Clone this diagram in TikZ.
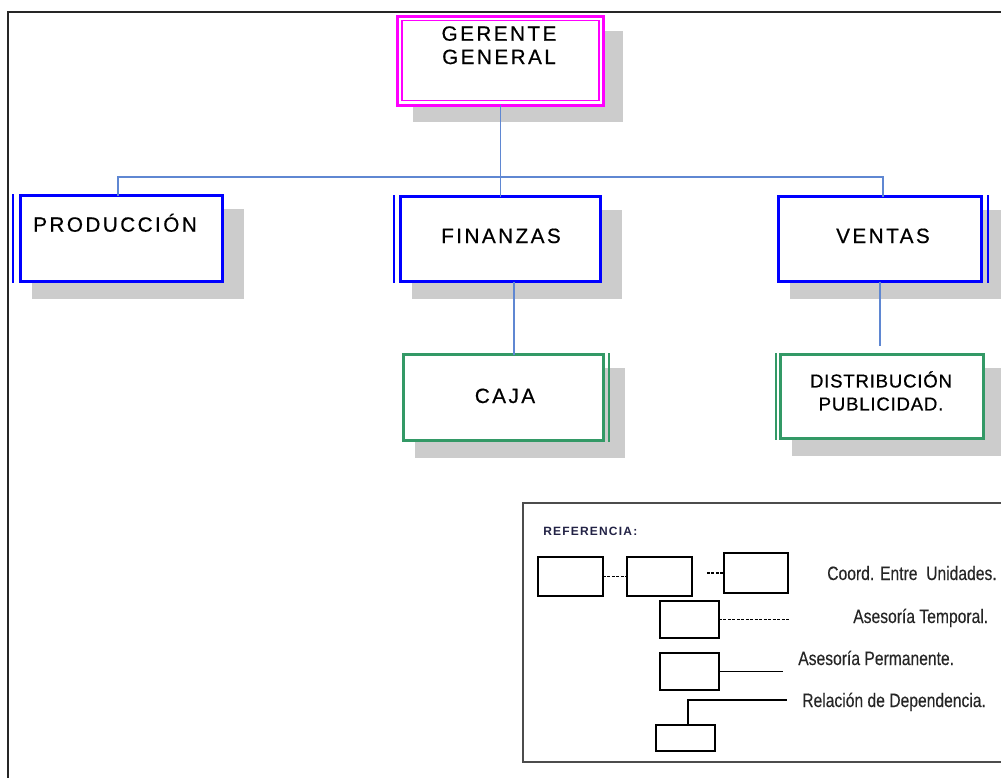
\documentclass[tikz,border=0pt]{standalone}
\usepackage{fontspec}
\setmainfont{Liberation Sans}
\newfontfamily\boxfont[LetterSpace=12,FakeBold=0.6]{Liberation Sans}
\newfontfamily\distfont[LetterSpace=4,FakeBold=0.6]{Liberation Sans}
\newfontfamily\reffont[LetterSpace=10]{Liberation Sans}
\newfontfamily\legfont[FakeBold=0.3]{Liberation Sans}
\usetikzlibrary{shadows,calc}
\definecolor{magbox}{RGB}{255,0,255}
\definecolor{bluebox}{RGB}{0,0,255}
\definecolor{greenbox}{RGB}{51,153,102}
\definecolor{connblue}{RGB}{95,135,210}
\definecolor{shadowgray}{RGB}{204,204,204}
\definecolor{refnavy}{RGB}{35,35,70}
\begin{document}
\begin{tikzpicture}[x=0.75pt,y=-0.75pt,
  orgbox/.style={rectangle,fill=white,inner sep=0pt,outer sep=0pt,
    drop shadow={shadow scale=1.05,shadow xshift=11.5pt,shadow yshift=-11pt,fill=shadowgray,opacity=1}},
  topbox/.style={rectangle,fill=white,inner sep=0pt,outer sep=0pt,
    drop shadow={shadow scale=1.02,shadow xshift=13.1pt,shadow yshift=-12pt,fill=shadowgray,opacity=1},
    draw=magbox,line width=2.25pt},
  unitbox/.style={orgbox,draw=bluebox,line width=2.4pt},
  subbox/.style={orgbox,draw=greenbox,line width=2.4pt},
  thinedge/.style={draw=#1,line width=0.8pt},
  conn/.style={draw=connblue,line width=1.1pt},
  boxtext/.style={inner sep=0pt,font=\boxfont\fontsize{15.5}{17.5}\selectfont,text=black},
  disttext/.style={inner sep=0pt,font=\distfont\fontsize{14}{17.25}\selectfont,text=black},
  legbox/.style={rectangle,draw=black,line width=0.9pt,fill=white,inner sep=0pt,outer sep=0pt},
  legline/.style={draw=black,line width=0.9pt},
  legdash/.style={draw=black,line width=0.9pt,dash pattern=on 2.25pt off 1.1pt},
  legtext/.style={inner sep=0pt,anchor=base west,font=\legfont\fontsize{14.5}{17}\selectfont,text=black!85}
]
\fill[white] (0,0) rectangle (1001,778);
\useasboundingbox (0,0) rectangle (1001,778);

% outer frame
\draw[line width=1.5pt,black!85] (8,790) -- (8,12) -- (1010,12);

% org boxes
\node[topbox,minimum width=154.5pt,minimum height=66.75pt] (ger) at (500.5,60.5) {};
\draw[magbox,line width=0.9pt] ($(ger.north west)+(4.5,4.5)$) rectangle ($(ger.south east)+(-4.5,-4.5)$);
\node[unitbox,minimum width=151.5pt,minimum height=64.5pt] (prod) at (121.5,238.5) {};
\node[unitbox,minimum width=150pt,minimum height=63.75pt] (fin) at (500.5,239) {};
\node[unitbox,minimum width=152.25pt,minimum height=63.75pt] (ven) at (880,239) {};
\node[subbox,minimum width=150pt,minimum height=64.5pt] (caja) at (503.5,397.5) {};
\node[subbox,minimum width=152.25pt,minimum height=63pt] (dist) at (882,396.5) {};

% thin side lines of the double borders
\draw[thinedge=bluebox] ($(prod.north west)+(-7.5,-1.5)$) -- ($(prod.south west)+(-7.5,1.5)$);
\draw[thinedge=bluebox] ($(fin.north west)+(-6.5,-1.5)$) -- ($(fin.south west)+(-6.5,1.5)$);
\draw[thinedge=bluebox] ($(ven.north east)+(6.5,-1.5)$) -- ($(ven.south east)+(6.5,1.5)$);
\draw[thinedge=greenbox] ($(caja.north east)+(5.5,-1.5)$) -- ($(caja.south east)+(5.5,1.5)$);
\draw[thinedge=greenbox] ($(dist.north west)+(-4.5,-1.5)$) -- ($(dist.south west)+(-4.5,1.5)$);

% connectors
\coordinate (busL) at (118,177);
\coordinate (busR) at (883,177);
\draw[conn] (ger.south) -- (fin.north -| ger.south);
\draw[conn] (prod.north -| busL) -- (busL) -- (busR) -- (ven.north -| busR);
\draw[conn] ($(fin.south)+(13.5,0)$) -- ($(caja.north)+(10.5,0)$);
\draw[conn] (ven.south) -- ($(dist.north)+(-2,-9)$);

% box texts
\node[boxtext,anchor=north,align=center] (gertext) at (499,26) {GERENTE\\GENERAL};
\node[boxtext,anchor=base west] (prodtext) at (33,231.7) {PRODUCCIÓN};
\node[boxtext,anchor=base] (fintext) at (501,243) {FINANZAS};
\node[boxtext,anchor=base] (ventext) at (883,243) {VENTAS};
\node[boxtext,anchor=base] (cajatext) at (505,403) {CAJA};
\node[disttext,anchor=north,align=center] (disttxt) at (881,371) {DISTRIBUCIÓN\\PUBLICIDAD.};

% legend
\node[draw=black!70,line width=1.5pt,fill=white,minimum width=360pt,minimum height=194.25pt,inner sep=0pt] (legend) at (763,632.5) {};
\node[inner sep=0pt,anchor=base west,text=refnavy,font=\reffont\bfseries\fontsize{9}{11}\selectfont] (reftitle) at (543,535) {REFERENCIA:};

\node[legbox,minimum width=48.75pt,minimum height=29.25pt] (b1) at (570.5,576.5) {};
\node[legbox,minimum width=48.75pt,minimum height=29.25pt] (b2) at (659.5,576.5) {};
\node[legbox,minimum width=48pt,minimum height=30pt] (b3) at (756,573) {};
\node[legbox,minimum width=44.25pt,minimum height=27.75pt] (b4) at (689.5,619.5) {};
\node[legbox,minimum width=44.25pt,minimum height=27.75pt] (b5) at (689.5,671.5) {};
\node[legbox,minimum width=44.25pt,minimum height=19.5pt] (b6) at (685.5,738) {};

\coordinate (d3) at (707,573);
\coordinate (t4) at (790,619.5);
\coordinate (t5) at (783,671.5);
\coordinate (t6) at (787,700);
\draw[legdash] (b1.east) -- (b2.west);
\draw[legdash] (d3) -- (b3.west);
\draw[legdash] (b4.east) -- (t4);
\draw[legline] (b5.east) -- (t5);
\draw[legline] ($(b6.north)+(2.5,0)$) |- (t6);

\node[legtext] (lt1) at (827,580) {\scalebox{0.81}[1]{Coord. Entre\ \ Unidades.}};
\node[legtext] (lt2) at (853,623) {\scalebox{0.81}[1]{Asesoría Temporal.}};
\node[legtext] (lt3) at (798,665) {\scalebox{0.81}[1]{Asesoría Permanente.}};
\node[legtext] (lt4) at (802,707) {\scalebox{0.81}[1]{Relación de Dependencia.}};
\end{tikzpicture}
\end{document}
